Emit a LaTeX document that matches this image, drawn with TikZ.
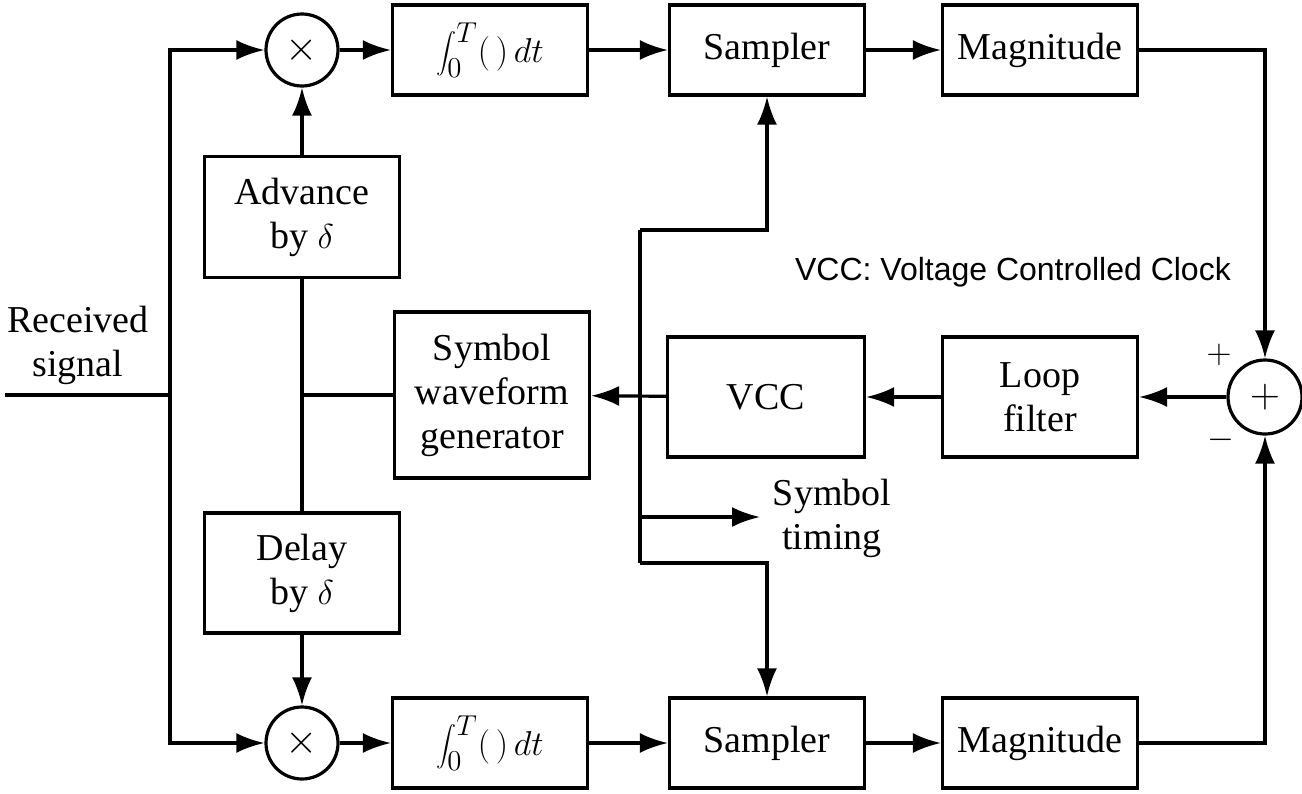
\documentclass[tikz,border=0pt]{standalone}
\usepackage{fontspec}
\setmainfont{Liberation Serif}
\newfontfamily\notefont{Liberation Sans}
\usetikzlibrary{arrows.meta}
\begin{document}
\begin{tikzpicture}[x=0.5pt,y=-0.5pt,
  every node/.style={font=\fontsize{19}{22}\selectfont},
  blk/.style={draw,line width=1.6pt,align=center,inner sep=0pt,minimum width=97.5pt},
  mult/.style={draw,circle,line width=1.6pt,minimum size=36pt,inner sep=0pt,font=\fontsize{20}{20}\selectfont},
  wire/.style={line width=1.6pt},
  arr/.style={line width=1.6pt,-{Latex[length=14pt,width=10pt]}}]
\useasboundingbox (0,0) rectangle (1302,793);
% blocks
\node[mult] (m1) at (302,50) {$\times$};
\node[mult] (m2) at (302,743) {$\times$};
\node[mult,minimum size=37pt] (sum) at (1265,397) {$+$};
\node[blk,minimum height=45pt] (int1) at (490,50) {\fontsize{19}{22}\selectfont$\displaystyle\int_0^T(\,)\,dt$};
\node[blk,minimum height=45pt] (samp1) at (767,50) {Sampler};
\node[blk,minimum height=45pt] (mag1) at (1040,50) {Magnitude};
\node[blk,minimum height=45pt] (int2) at (490,743) {\fontsize{19}{22}\selectfont$\displaystyle\int_0^T(\,)\,dt$};
\node[blk,minimum height=45pt] (samp2) at (767,743) {Sampler};
\node[blk,minimum height=45pt] (mag2) at (1040,743) {Magnitude};
\node[blk,minimum height=60.5pt] (adv) at (302,217) {Advance\\by $\delta$};
\node[blk,minimum height=60pt] (del) at (302,573) {Delay\\by $\delta$};
\node[blk,minimum height=83pt] (swg) at (492,395) {Symbol\\waveform\\generator};
\node[blk,minimum height=60pt,minimum width=98.5pt] (vcc) at (766,397) {VCC};
\node[blk,minimum height=60pt] (loop) at (1040,397) {Loop\\filter};
% labels
\node[align=center] (rs) at (78,345) {Received\\signal};
\node[align=center] (st) at (832,518) {Symbol\\timing};
\node[anchor=west,font=\notefont\fontsize{16}{18}\selectfont] (note) at (788,272) {VCC: Voltage Controlled Clock};
\node (plus) at (1219,355) {\fontsize{16}{18}\selectfont$+$};
\node (minus) at (1221,440) {\fontsize{16}{18}\selectfont$-$};
% coordinates
\coordinate (in) at (5,395);
\coordinate (j1) at (170,395);
\coordinate (j2) at (302,395);
\coordinate (ttop) at (640,230);
\coordinate (tbot) at (640,563);
\coordinate (ts) at (640,517);
\coordinate (te) at (760,517);
% connectors
\draw[wire] (in) -- (j1);
\draw[arr] (j1) |- (m1.west);
\draw[arr] (j1) |- (m2.west);
\draw[arr] (m1) -- (int1);
\draw[arr] (int1) -- (samp1);
\draw[arr] (samp1) -- (mag1);
\draw[arr] (m2) -- (int2);
\draw[arr] (int2) -- (samp2);
\draw[arr] (samp2) -- (mag2);
\draw[arr] (mag1.east) -| (sum.north);
\draw[arr] (mag2.east) -| (sum.south);
\draw[arr] (sum) -- (loop);
\draw[arr] (loop) -- (vcc);
\draw[arr] (vcc) -- (swg);
\draw[arr] (adv) -- (m1);
\draw[wire] (adv) -- (del);
\draw[wire] (j2) -- (swg.west);
\draw[arr] (del) -- (m2);
\draw[wire] (ttop) -- (tbot);
\draw[arr] (ttop) -| (samp1.south);
\draw[arr] (tbot) -| (samp2.north);
\draw[arr] (ts) -- (te);
\end{tikzpicture}
\end{document}
